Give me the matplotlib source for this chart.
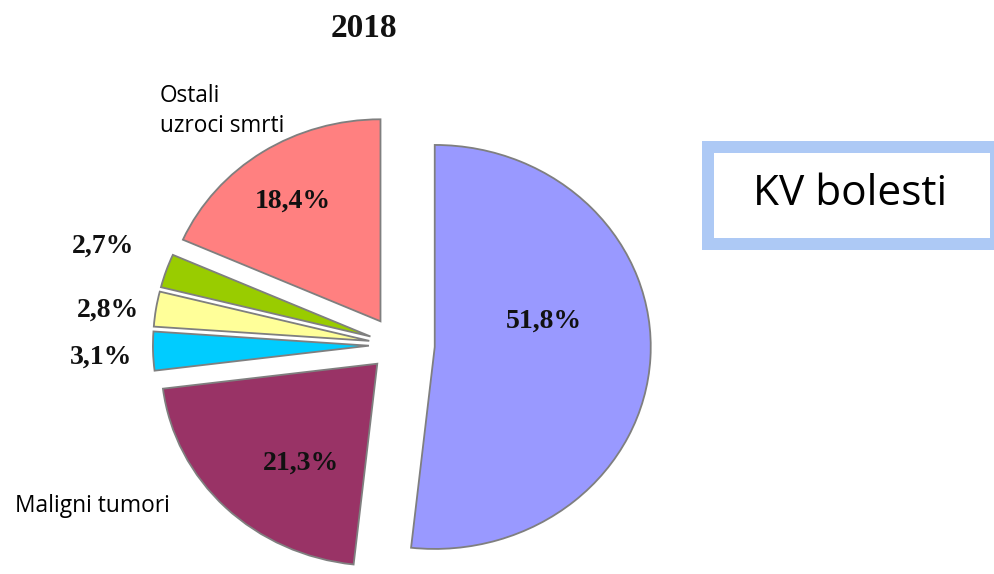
import matplotlib
matplotlib.use("Agg")
import matplotlib.pyplot as plt
from matplotlib.patches import Rectangle

# ---- data ----
title = "2018"
categories = ["KV bolesti", "Maligni tumori", "Ostalo 1", "Ostalo 2", "Ostalo 3", "Ostali uzroci smrti"]
values = [51.8, 21.3, 3.1, 2.8, 2.7, 18.4]
colors = ["#9999ff", "#993366", "#00ccff", "#ffff99", "#99cc00", "#ff8080"]
explode = [0.175, 0.13, 0.13, 0.13, 0.13, 0.14]

W, H = 994, 574
fig = plt.figure(figsize=(W / 100, H / 100), dpi=100)
ax = fig.add_axes([0, 0, 1, 1])

CX, CY = 397, 345       # pie centre in pixels
RX, RY = 216, 202       # pixel size of one data unit

ax.pie(values, colors=colors, explode=explode, startangle=90, counterclock=False,
       radius=1.0, wedgeprops=dict(edgecolor="#7f7f7f", linewidth=1.3))
ax.set_aspect("auto")
ax.set_xlim(-CX / RX, (W - CX) / RX)
ax.set_ylim(-(H - CY) / RY, CY / RY)
ax.axis("off")


def fx(x):
    return x / W


def fy(y):
    return 1 - y / H


def pct(v):
    return f"{v:.1f}%".replace(".", ",")


serif = dict(family="Liberation Serif", weight="bold", color="#111111")
sans = dict(family="Open Sans", color="black")

# title
fig.text(fx(364), fy(37), title, ha="center", va="baseline", fontsize=24, **serif)

# percentage labels (pixel positions of each label)
label_pos = [(544, 328), (301, 470), (101, 364), (108, 317), (103, 253), (293, 208)]
for v, (x, y) in zip(values, label_pos):
    fig.text(fx(x), fy(y), pct(v), ha="center", va="baseline", fontsize=20, **serif)

# category annotations
fig.text(fx(160), fy(102), "Ostali", ha="left", va="baseline", fontsize=16.3, **sans)
fig.text(fx(160), fy(132), "uzroci smrti", ha="left", va="baseline", fontsize=16.3, **sans)
fig.text(fx(15), fy(512), categories[1], ha="left", va="baseline", fontsize=16.4, **sans)

# KV bolesti box: outer light-blue frame with white interior
ox0, oy0, ox1, oy1 = 702, 141, 1002, 250
ix0, iy0, ix1, iy1 = 714, 153, 990, 238
fig.patches.append(Rectangle((fx(ox0), fy(oy1)), (ox1 - ox0) / W, (oy1 - oy0) / H,
                             transform=fig.transFigure, facecolor="#adc9f5",
                             edgecolor="none"))
fig.patches.append(Rectangle((fx(ix0), fy(iy1)), (ix1 - ix0) / W, (iy1 - iy0) / H,
                             transform=fig.transFigure, facecolor="white",
                             edgecolor="none"))
fig.text(fx(850), fy(205), categories[0], ha="center", va="baseline", fontsize=30.5, **sans)

fig.savefig("out.png", dpi=100, facecolor="white")
